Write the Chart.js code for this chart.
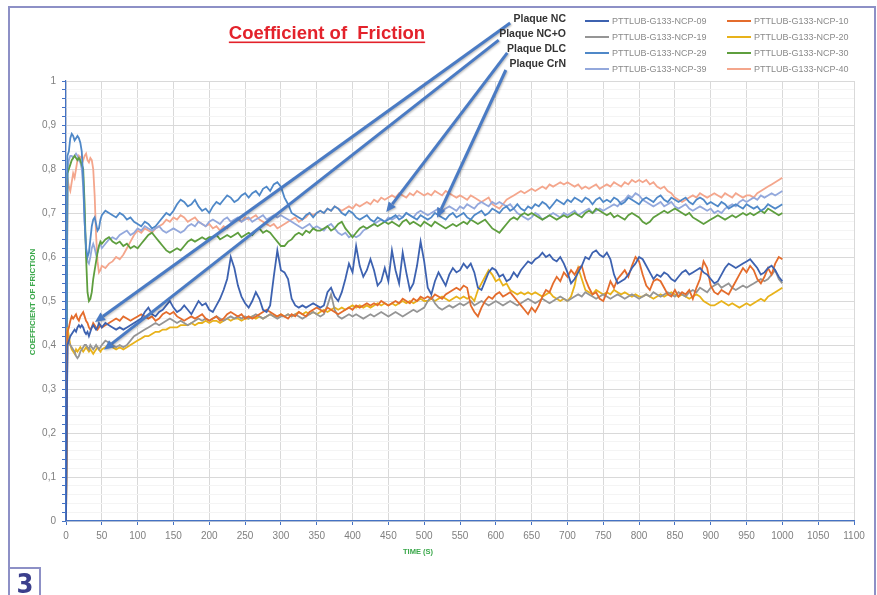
<!DOCTYPE html>
<html>
<head>
<meta charset="utf-8">
<title>Coefficient of Friction</title>
<script src="https://cdn.jsdelivr.net/npm/chart.js@4.4.1/dist/chart.umd.min.js"></script>
<style>
  html, body { margin: 0; padding: 0; background: #fff; }
  canvas { display: block; }
</style>
</head>
<body>
<canvas id="frictionChart" width="877" height="595"></canvas>
<script>
// temps (s) : pas de 2 s au début, puis 5 s
const times = [0, 2, 4, 6, 8, 10, 12, 14, 16, 18, 20, 22, 24, 26, 28, 30, 32, 34, 36, 38, 40, 42, 44, 46, 48, 50];
for (let t = 55; t <= 1000; t += 5) times.push(t);

const xTicks = { min: 0, max: 1100, step: 50 };
const yTicks = { min: 0, max: 1, step: 0.1 };

const seriesNames = ['PTTLUB-G133-NCP-09', 'PTTLUB-G133-NCP-10', 'PTTLUB-G133-NCP-19', 'PTTLUB-G133-NCP-20',
                     'PTTLUB-G133-NCP-29', 'PTTLUB-G133-NCP-30', 'PTTLUB-G133-NCP-39', 'PTTLUB-G133-NCP-40'];

const ncp09 = [
  0, 0.40, 0.41, 0.42, 0.425, 0.43, 0.435, 0.43, 0.44, 0.445, 0.44, 0.445, 0.44, 0.43, 0.425, 0.43, 0.42, 0.43, 0.44, 0.445, 0.44, 0.435, 0.44, 0.45, 0.445, 0.44,
  0.45, 0.445, 0.44, 0.435, 0.44, 0.435, 0.44, 0.445, 0.45, 0.455,
  0.46, 0.475, 0.485, 0.47, 0.465, 0.475, 0.48, 0.49, 0.50, 0.485,
  0.475, 0.48, 0.49, 0.48, 0.47, 0.485, 0.50, 0.49, 0.495, 0.48,
  0.475, 0.49, 0.505, 0.525, 0.55, 0.60, 0.575, 0.535, 0.51, 0.495,
  0.485, 0.50, 0.52, 0.505, 0.48, 0.475, 0.49, 0.555, 0.615, 0.57,
  0.565, 0.55, 0.505, 0.49, 0.485, 0.49, 0.485, 0.49, 0.495, 0.49,
  0.485, 0.49, 0.52, 0.53, 0.51, 0.50, 0.52, 0.55, 0.585, 0.565,
  0.625, 0.58, 0.555, 0.57, 0.595, 0.57, 0.535, 0.545, 0.575, 0.545,
  0.615, 0.57, 0.54, 0.61, 0.565, 0.525, 0.54, 0.58, 0.635, 0.59,
  0.53, 0.515, 0.545, 0.565, 0.55, 0.535, 0.56, 0.575, 0.565, 0.57,
  0.585, 0.575, 0.585, 0.565, 0.53, 0.525, 0.545, 0.565, 0.575, 0.57,
  0.555, 0.56, 0.545, 0.55, 0.565, 0.555, 0.57, 0.58, 0.59, 0.585,
  0.595, 0.60, 0.61, 0.60, 0.605, 0.595, 0.59, 0.60, 0.585, 0.565,
  0.54, 0.55, 0.565, 0.58, 0.60, 0.595, 0.61, 0.615, 0.605, 0.60,
  0.61, 0.595, 0.56, 0.54, 0.545, 0.55, 0.56, 0.575, 0.585, 0.60,
  0.595, 0.58, 0.565, 0.55, 0.56, 0.555, 0.565, 0.56, 0.55, 0.545,
  0.555, 0.565, 0.57, 0.56, 0.565, 0.57, 0.575, 0.565, 0.56, 0.55,
  0.54, 0.545, 0.56, 0.575, 0.585, 0.58, 0.575, 0.58, 0.585, 0.59,
  0.595, 0.585, 0.575, 0.56, 0.565, 0.575, 0.58, 0.57, 0.555, 0.545
];

const ncp10 = [
  0, 0.43, 0.44, 0.455, 0.465, 0.46, 0.465, 0.47, 0.46, 0.455, 0.465, 0.47, 0.475, 0.465, 0.455, 0.45, 0.44, 0.435, 0.44, 0.45, 0.445, 0.44, 0.435, 0.44, 0.445, 0.44,
  0.445, 0.45, 0.455, 0.46, 0.455, 0.465, 0.46, 0.455, 0.46, 0.465,
  0.47, 0.465, 0.46, 0.465, 0.455, 0.46, 0.47, 0.475, 0.47, 0.475,
  0.465, 0.46, 0.455, 0.46, 0.465, 0.46, 0.465, 0.47, 0.46, 0.455,
  0.46, 0.465, 0.455, 0.46, 0.47, 0.475, 0.47, 0.465, 0.47, 0.46,
  0.465, 0.46, 0.465, 0.47, 0.475, 0.48, 0.475, 0.47, 0.465, 0.47,
  0.465, 0.46, 0.47, 0.465, 0.475, 0.47, 0.465, 0.475, 0.48, 0.485,
  0.48, 0.475, 0.485, 0.48, 0.475, 0.47, 0.475, 0.48, 0.485, 0.48,
  0.49, 0.485, 0.49, 0.495, 0.49, 0.495, 0.49, 0.50, 0.495, 0.49,
  0.495, 0.50, 0.495, 0.505, 0.50, 0.495, 0.505, 0.50, 0.51, 0.505,
  0.51, 0.505, 0.515, 0.51, 0.505, 0.515, 0.52, 0.525, 0.53, 0.525,
  0.535, 0.53, 0.49, 0.475, 0.465, 0.485, 0.50, 0.51, 0.505, 0.515,
  0.52, 0.51, 0.515, 0.52, 0.51, 0.50, 0.49, 0.48, 0.47, 0.485,
  0.475, 0.49, 0.51, 0.525, 0.52, 0.54, 0.555, 0.545, 0.565, 0.555,
  0.57, 0.56, 0.575, 0.58, 0.55, 0.53, 0.515, 0.52, 0.505, 0.50,
  0.52, 0.545, 0.53, 0.55, 0.56, 0.57, 0.555, 0.58, 0.60, 0.59,
  0.56, 0.535, 0.525, 0.545, 0.55, 0.545, 0.53, 0.515, 0.51, 0.525,
  0.51, 0.52, 0.515, 0.525, 0.505, 0.53, 0.55, 0.59, 0.575, 0.535,
  0.52, 0.515, 0.525, 0.52, 0.515, 0.53, 0.545, 0.56, 0.575, 0.565,
  0.58, 0.57, 0.55, 0.54, 0.555, 0.575, 0.56, 0.585, 0.60, 0.595
];

const ncp19 = [
  0, 0.41, 0.405, 0.40, 0.395, 0.39, 0.385, 0.375, 0.37, 0.375, 0.385, 0.39, 0.395, 0.40, 0.40, 0.395, 0.39, 0.40, 0.395, 0.39, 0.395, 0.40, 0.395, 0.39, 0.395, 0.40,
  0.41, 0.405, 0.40, 0.395, 0.40, 0.395, 0.40, 0.41, 0.42, 0.425,
  0.43, 0.435, 0.44, 0.445, 0.45, 0.445, 0.45, 0.455, 0.46, 0.455,
  0.45, 0.455, 0.45, 0.445, 0.45, 0.455, 0.46, 0.455, 0.46, 0.455,
  0.46, 0.465, 0.46, 0.455, 0.46, 0.465, 0.46, 0.465, 0.46, 0.465,
  0.46, 0.465, 0.47, 0.465, 0.46, 0.465, 0.47, 0.465, 0.46, 0.465,
  0.465, 0.47, 0.465, 0.47, 0.465, 0.46, 0.465, 0.47, 0.475, 0.47,
  0.465, 0.47, 0.49, 0.515, 0.48, 0.465, 0.46, 0.465, 0.47, 0.465,
  0.47, 0.465, 0.46, 0.465, 0.47, 0.465, 0.47, 0.475, 0.47, 0.465,
  0.47, 0.475, 0.47, 0.465, 0.47, 0.475, 0.48, 0.475, 0.48, 0.485,
  0.50, 0.51, 0.495, 0.485, 0.48, 0.485, 0.49, 0.485, 0.49, 0.495,
  0.49, 0.495, 0.50, 0.49, 0.495, 0.50, 0.495, 0.49, 0.495, 0.50,
  0.495, 0.49, 0.495, 0.50, 0.495, 0.49, 0.495, 0.50, 0.505, 0.50,
  0.495, 0.50, 0.505, 0.50, 0.495, 0.50, 0.505, 0.51, 0.505, 0.50,
  0.505, 0.51, 0.515, 0.51, 0.52, 0.515, 0.51, 0.505, 0.51, 0.515,
  0.51, 0.505, 0.51, 0.515, 0.51, 0.505, 0.51, 0.515, 0.51, 0.505,
  0.51, 0.515, 0.51, 0.52, 0.515, 0.51, 0.515, 0.52, 0.515, 0.51,
  0.52, 0.515, 0.51, 0.52, 0.525, 0.52, 0.53, 0.525, 0.52, 0.53,
  0.535, 0.54, 0.53, 0.535, 0.54, 0.53, 0.525, 0.53, 0.535, 0.53,
  0.535, 0.54, 0.545, 0.55, 0.545, 0.55, 0.56, 0.57, 0.55, 0.54
];

const ncp20 = [
  0, 0.44, 0.42, 0.40, 0.39, 0.385, 0.38, 0.39, 0.385, 0.39, 0.395, 0.39, 0.385, 0.39, 0.395, 0.39, 0.385, 0.39, 0.385, 0.38, 0.385, 0.39, 0.395, 0.39, 0.385, 0.39,
  0.395, 0.40, 0.395, 0.39, 0.395, 0.39, 0.395, 0.40, 0.405, 0.41,
  0.415, 0.42, 0.42, 0.425, 0.43, 0.43, 0.435, 0.435, 0.44, 0.44,
  0.44, 0.445, 0.445, 0.445, 0.45, 0.445, 0.45, 0.45, 0.455, 0.45,
  0.455, 0.455, 0.45, 0.455, 0.46, 0.455, 0.46, 0.46, 0.455, 0.46,
  0.46, 0.465, 0.46, 0.465, 0.46, 0.465, 0.47, 0.465, 0.465, 0.47,
  0.465, 0.47, 0.465, 0.47, 0.475, 0.47, 0.475, 0.47, 0.475, 0.47,
  0.475, 0.48, 0.475, 0.48, 0.485, 0.48, 0.485, 0.48, 0.485, 0.49,
  0.485, 0.49, 0.485, 0.49, 0.485, 0.49, 0.495, 0.49, 0.495, 0.49,
  0.495, 0.49, 0.495, 0.50, 0.495, 0.50, 0.495, 0.50, 0.505, 0.50,
  0.50, 0.505, 0.50, 0.505, 0.51, 0.505, 0.50, 0.505, 0.51, 0.505,
  0.51, 0.505, 0.51, 0.50, 0.525, 0.54, 0.555, 0.57, 0.56, 0.545,
  0.55, 0.535, 0.54, 0.525, 0.52, 0.515, 0.52, 0.515, 0.52, 0.515,
  0.52, 0.515, 0.51, 0.515, 0.52, 0.51, 0.505, 0.50, 0.505, 0.50,
  0.51, 0.535, 0.575, 0.55, 0.525, 0.52, 0.515, 0.525, 0.52, 0.515,
  0.52, 0.515, 0.525, 0.52, 0.515, 0.52, 0.515, 0.51, 0.515, 0.51,
  0.51, 0.515, 0.51, 0.505, 0.51, 0.515, 0.51, 0.515, 0.52, 0.515,
  0.51, 0.515, 0.51, 0.505, 0.51, 0.515, 0.51, 0.50, 0.495, 0.49,
  0.49, 0.495, 0.50, 0.495, 0.49, 0.495, 0.49, 0.485, 0.49, 0.495,
  0.49, 0.495, 0.50, 0.505, 0.50, 0.51, 0.515, 0.52, 0.525, 0.53
];

const ncp29 = [
  0, 0.83, 0.84, 0.87, 0.88, 0.875, 0.865, 0.87, 0.875, 0.87, 0.86, 0.84, 0.78, 0.68, 0.62, 0.60, 0.61, 0.64, 0.67, 0.685, 0.69, 0.675, 0.66, 0.665, 0.685, 0.695,
  0.705, 0.70, 0.695, 0.69, 0.70, 0.695, 0.685, 0.69, 0.68, 0.675,
  0.67, 0.68, 0.675, 0.665, 0.67, 0.68, 0.69, 0.70, 0.695, 0.705,
  0.72, 0.73, 0.725, 0.715, 0.72, 0.73, 0.715, 0.705, 0.71, 0.70,
  0.715, 0.725, 0.72, 0.73, 0.74, 0.735, 0.725, 0.73, 0.74, 0.745,
  0.735, 0.745, 0.75, 0.74, 0.755, 0.76, 0.75, 0.765, 0.77, 0.76,
  0.735, 0.72, 0.70, 0.695, 0.69, 0.685, 0.695, 0.70, 0.69, 0.70,
  0.705, 0.70, 0.71, 0.705, 0.715, 0.71, 0.70, 0.695, 0.705, 0.70,
  0.69, 0.685, 0.69, 0.695, 0.685, 0.68, 0.69, 0.685, 0.68, 0.685,
  0.69, 0.695, 0.685, 0.69, 0.70, 0.695, 0.69, 0.685, 0.695, 0.69,
  0.685, 0.69, 0.70, 0.695, 0.69, 0.685, 0.695, 0.70, 0.69, 0.695,
  0.70, 0.69, 0.685, 0.695, 0.70, 0.705, 0.695, 0.70, 0.71, 0.705,
  0.70, 0.71, 0.715, 0.705, 0.71, 0.72, 0.71, 0.705, 0.715, 0.71,
  0.72, 0.715, 0.725, 0.72, 0.71, 0.72, 0.73, 0.725, 0.72, 0.73,
  0.725, 0.735, 0.73, 0.725, 0.735, 0.73, 0.72, 0.73, 0.735, 0.725,
  0.73, 0.725, 0.735, 0.73, 0.72, 0.725, 0.735, 0.73, 0.725, 0.72,
  0.73, 0.735, 0.73, 0.725, 0.735, 0.74, 0.73, 0.725, 0.735, 0.73,
  0.725, 0.73, 0.735, 0.725, 0.72, 0.73, 0.735, 0.73, 0.72, 0.725,
  0.72, 0.715, 0.725, 0.72, 0.71, 0.715, 0.72, 0.715, 0.71, 0.72,
  0.715, 0.71, 0.715, 0.705, 0.71, 0.72, 0.715, 0.71, 0.715, 0.72
];

const ncp30 = [
  0, 0.79, 0.80, 0.81, 0.82, 0.825, 0.83, 0.825, 0.82, 0.825, 0.82, 0.81, 0.80, 0.72, 0.60, 0.52, 0.50, 0.505, 0.52, 0.55, 0.57, 0.59, 0.61, 0.625, 0.635, 0.63,
  0.64, 0.645, 0.635, 0.63, 0.635, 0.625, 0.63, 0.62, 0.625, 0.62,
  0.63, 0.64, 0.65, 0.655, 0.645, 0.635, 0.625, 0.615, 0.61, 0.615,
  0.62, 0.615, 0.625, 0.635, 0.64, 0.635, 0.64, 0.645, 0.64, 0.645,
  0.645, 0.65, 0.64, 0.645, 0.65, 0.645, 0.65, 0.655, 0.645, 0.65,
  0.655, 0.65, 0.66, 0.665, 0.655, 0.66, 0.655, 0.645, 0.635, 0.625,
  0.625, 0.635, 0.64, 0.65, 0.655, 0.65, 0.66, 0.655, 0.665, 0.66,
  0.66, 0.665, 0.67, 0.66, 0.665, 0.675, 0.68, 0.665, 0.655, 0.645,
  0.655, 0.665, 0.67, 0.665, 0.67, 0.675, 0.67, 0.675, 0.68, 0.675,
  0.68, 0.675, 0.67, 0.68, 0.685, 0.675, 0.68, 0.675, 0.67, 0.68,
  0.675, 0.67, 0.68, 0.675, 0.67, 0.665, 0.67, 0.675, 0.67, 0.675,
  0.68, 0.675, 0.685, 0.68, 0.675, 0.68, 0.685, 0.675, 0.665, 0.66,
  0.655, 0.665, 0.675, 0.685, 0.69, 0.685, 0.695, 0.70, 0.695, 0.70,
  0.695, 0.69, 0.685, 0.69, 0.695, 0.69, 0.685, 0.69, 0.695, 0.69,
  0.695, 0.70, 0.695, 0.69, 0.70, 0.705, 0.70, 0.71, 0.705, 0.70,
  0.695, 0.70, 0.69, 0.695, 0.69, 0.685, 0.695, 0.70, 0.695, 0.69,
  0.68, 0.675, 0.68, 0.69, 0.695, 0.70, 0.705, 0.70, 0.705, 0.71,
  0.705, 0.70, 0.695, 0.70, 0.69, 0.685, 0.68, 0.675, 0.68, 0.685,
  0.69, 0.695, 0.69, 0.685, 0.69, 0.695, 0.69, 0.695, 0.70, 0.695,
  0.70, 0.695, 0.70, 0.705, 0.70, 0.71, 0.705, 0.70, 0.695, 0.70
];

const ncp39 = [
  0, 0.80, 0.82, 0.83, 0.83, 0.825, 0.83, 0.835, 0.83, 0.82, 0.815, 0.80, 0.76, 0.68, 0.62, 0.59, 0.585, 0.60, 0.62, 0.63, 0.62, 0.605, 0.61, 0.625, 0.63, 0.62,
  0.63, 0.64, 0.645, 0.64, 0.65, 0.655, 0.66, 0.65, 0.655, 0.665,
  0.66, 0.67, 0.665, 0.66, 0.665, 0.67, 0.66, 0.655, 0.66, 0.665,
  0.66, 0.655, 0.66, 0.67, 0.675, 0.67, 0.68, 0.675, 0.67, 0.68,
  0.685, 0.68, 0.675, 0.685, 0.69, 0.68, 0.685, 0.69, 0.68, 0.685,
  0.69, 0.68, 0.685, 0.69, 0.695, 0.685, 0.69, 0.695, 0.69, 0.695,
  0.69, 0.685, 0.68, 0.675, 0.67, 0.665, 0.67, 0.675, 0.665, 0.67,
  0.665, 0.66, 0.67, 0.675, 0.665, 0.655, 0.65, 0.655, 0.645, 0.65,
  0.645, 0.65, 0.66, 0.665, 0.67, 0.675, 0.68, 0.685, 0.68, 0.69,
  0.685, 0.69, 0.695, 0.69, 0.70, 0.695, 0.69, 0.70, 0.705, 0.70,
  0.695, 0.70, 0.705, 0.71, 0.705, 0.71, 0.715, 0.71, 0.705, 0.715,
  0.71, 0.72, 0.715, 0.71, 0.72, 0.725, 0.72, 0.715, 0.725, 0.72,
  0.725, 0.72, 0.715, 0.72, 0.71, 0.70, 0.695, 0.69, 0.685, 0.69,
  0.70, 0.695, 0.685, 0.69, 0.695, 0.70, 0.695, 0.69, 0.70, 0.695,
  0.70, 0.705, 0.695, 0.70, 0.705, 0.71, 0.70, 0.705, 0.71, 0.705,
  0.71, 0.715, 0.72, 0.715, 0.725, 0.73, 0.74, 0.735, 0.745, 0.74,
  0.73, 0.725, 0.72, 0.715, 0.72, 0.725, 0.715, 0.72, 0.725, 0.715,
  0.71, 0.715, 0.72, 0.71, 0.705, 0.71, 0.715, 0.71, 0.705, 0.71,
  0.70, 0.705, 0.70, 0.71, 0.715, 0.72, 0.715, 0.725, 0.73, 0.725,
  0.73, 0.735, 0.73, 0.74, 0.735, 0.74, 0.745, 0.74, 0.745, 0.75
];

const ncp40 = [
  0, 0.78, 0.76, 0.75, 0.77, 0.79, 0.78, 0.80, 0.82, 0.83, 0.825, 0.83, 0.82, 0.83, 0.835, 0.82, 0.815, 0.825, 0.82, 0.80, 0.74, 0.65, 0.59, 0.565, 0.57, 0.58,
  0.575, 0.585, 0.59, 0.60, 0.595, 0.605, 0.62, 0.635, 0.65, 0.66,
  0.655, 0.665, 0.66, 0.655, 0.665, 0.67, 0.675, 0.685, 0.68, 0.69,
  0.685, 0.695, 0.69, 0.68, 0.685, 0.69, 0.68, 0.675, 0.67, 0.675,
  0.665, 0.67, 0.66, 0.67, 0.665, 0.675, 0.68, 0.685, 0.68, 0.69,
  0.685, 0.69, 0.695, 0.685, 0.68, 0.675, 0.67, 0.675, 0.665, 0.67,
  0.675, 0.68, 0.685, 0.69, 0.68, 0.685, 0.69, 0.70, 0.695, 0.70,
  0.705, 0.70, 0.71, 0.705, 0.715, 0.71, 0.705, 0.71, 0.715, 0.71,
  0.72, 0.715, 0.72, 0.725, 0.72, 0.73, 0.725, 0.735, 0.73, 0.735,
  0.74, 0.735, 0.745, 0.74, 0.735, 0.745, 0.74, 0.75, 0.745, 0.74,
  0.745, 0.74, 0.75, 0.745, 0.74, 0.75, 0.745, 0.74, 0.735, 0.74,
  0.735, 0.73, 0.74, 0.735, 0.73, 0.725, 0.73, 0.735, 0.72, 0.715,
  0.71, 0.72, 0.73, 0.735, 0.74, 0.745, 0.75, 0.745, 0.75, 0.755,
  0.75, 0.755, 0.76, 0.755, 0.765, 0.76, 0.765, 0.77, 0.765, 0.77,
  0.765, 0.76, 0.765, 0.755, 0.76, 0.755, 0.76, 0.765, 0.755, 0.76,
  0.765, 0.76, 0.77, 0.765, 0.76, 0.77, 0.765, 0.775, 0.77, 0.775,
  0.77, 0.775, 0.765, 0.77, 0.76, 0.755, 0.76, 0.75, 0.745, 0.735,
  0.73, 0.725, 0.73, 0.735, 0.74, 0.735, 0.745, 0.74, 0.735, 0.74,
  0.745, 0.74, 0.735, 0.745, 0.74, 0.735, 0.745, 0.74, 0.735, 0.74,
  0.74, 0.735, 0.745, 0.75, 0.755, 0.76, 0.765, 0.77, 0.775, 0.78
];

const seriesValues = [ncp09, ncp10, ncp19, ncp20, ncp29, ncp30, ncp39, ncp40];
const seriesColors = ['#3d62b0', '#e46c2c', '#959595', '#e8b21a', '#4f88c8', '#5e9e3e', '#93a8dc', '#f4a68c'];

// flèches "Plaque ..." : départ / pointe en coordonnées du graphique (temps, coefficient)
const plaqueLabels = ['Plaque NC', 'Plaque NC+O', 'Plaque DLC', 'Plaque CrN'];
const arrowFrom = [[620, 1.132], [604, 1.093], [616, 1.064], [614, 1.025]];
const arrowTo = [[40.5, 0.452], [53, 0.389], [447, 0.702], [518, 0.689]];

const datasets = seriesNames.map((name, i) => ({
  label: name,
  data: times.map((t, k) => ({ x: t, y: seriesValues[i][k] })),
  borderColor: seriesColors[i],
  backgroundColor: seriesColors[i],
  borderWidth: 1.8,
  pointRadius: 0,
  tension: 0,
  fill: false
}));

const isMajor = v => Math.abs(v * 10 - Math.round(v * 10)) < 1e-6;

// décor : cadre, titre, titres d'axes, légende, flèches
const decorPlugin = {
  id: 'decor',
  beforeDraw(chart) {
    const c = chart.ctx;
    c.save();
    c.fillStyle = '#ffffff';
    c.fillRect(0, 0, chart.width, chart.height);
    c.restore();
  },
  afterDraw(chart) {
    const c = chart.ctx;
    const xs = chart.scales.x, ys = chart.scales.y;
    c.save();

    // cadre
    c.strokeStyle = '#8d90c6';
    c.lineWidth = 2;
    c.beginPath();
    c.moveTo(9, 595); c.lineTo(9, 7); c.lineTo(875, 7); c.lineTo(875, 595);
    c.moveTo(9, 568); c.lineTo(40, 568); c.lineTo(40, 595);
    c.stroke();
    c.fillStyle = '#3b3f8c';
    c.font = 'bold 27px "Liberation Sans Narrow", "DejaVu Sans Condensed", sans-serif';
    c.textAlign = 'center';
    c.textBaseline = 'alphabetic';
    c.fillText('3', 25, 593);

    // titre
    c.fillStyle = '#e3222b';
    c.font = 'bold 18.5px "Liberation Sans", Arial, sans-serif';
    c.textAlign = 'center';
    c.fillText('Coefficient of  Friction', 327, 39);
    const w = c.measureText('Coefficient of  Friction').width;
    c.fillRect(327 - w / 2, 41.5, w, 1.6);

    // titres des axes
    c.fillStyle = '#3aa84a';
    c.font = 'bold 7.5px "Liberation Sans", Arial, sans-serif';
    c.textBaseline = 'middle';
    c.fillText('TIME (S)', 418, 552);
    c.font = 'bold 8px "Liberation Sans", Arial, sans-serif';
    c.translate(33, 302);
    c.rotate(-Math.PI / 2);
    c.fillText('COEFFICIENT OF FRICTION', 0, 0);
    c.setTransform(1, 0, 0, 1, 0, 0);

    // légende (2 colonnes)
    c.font = '9px "Liberation Sans", Arial, sans-serif';
    c.textAlign = 'left';
    chart.data.datasets.forEach((ds, i) => {
      const col = i % 2, row = Math.floor(i / 2);
      const x0 = col === 0 ? 585 : 727;
      const y0 = 21 + row * 16;
      c.strokeStyle = ds.borderColor;
      c.lineWidth = 2;
      c.beginPath();
      c.moveTo(x0, y0); c.lineTo(x0 + 24, y0);
      c.stroke();
      c.fillStyle = '#8a8a8a';
      c.fillText(ds.label, x0 + 27, y0 + 0.5);
    });

    // flèches
    c.shadowColor = 'rgba(0,0,0,0.25)';
    c.shadowBlur = 2;
    c.shadowOffsetX = 1;
    c.shadowOffsetY = 1;
    c.strokeStyle = '#4a7bc4';
    c.fillStyle = '#4a7bc4';
    c.lineWidth = 3;
    arrowFrom.forEach((p, i) => {
      const x1 = xs.getPixelForValue(p[0]), y1 = ys.getPixelForValue(p[1]);
      const x2 = xs.getPixelForValue(arrowTo[i][0]), y2 = ys.getPixelForValue(arrowTo[i][1]);
      const a = Math.atan2(y2 - y1, x2 - x1);
      const hl = 10, hw = 4.5;
      const bx = x2 - hl * Math.cos(a), by = y2 - hl * Math.sin(a);
      c.beginPath();
      c.moveTo(x1, y1); c.lineTo(bx, by);
      c.stroke();
      c.beginPath();
      c.moveTo(x2, y2);
      c.lineTo(bx + hw * Math.sin(a), by - hw * Math.cos(a));
      c.lineTo(bx - hw * Math.sin(a), by + hw * Math.cos(a));
      c.closePath();
      c.fill();
    });
    c.shadowColor = 'transparent';

    // libellés "Plaque ..."
    c.fillStyle = '#333333';
    c.font = 'bold 10.5px "Liberation Sans", Arial, sans-serif';
    c.textAlign = 'right';
    c.textBaseline = 'middle';
    plaqueLabels.forEach((txt, i) => {
      c.fillText(txt, 566, 19 + i * 15);
    });
    c.restore();
  }
};

const ctx = document.getElementById('frictionChart').getContext('2d');

const frictionChart = new Chart(ctx, {
  type: 'line',
  data: { datasets: datasets },
  plugins: [decorPlugin],
  options: {
    responsive: false,
    animation: false,
    devicePixelRatio: 1,
    layout: { padding: { top: 81, right: 23, bottom: 0, left: 0 } },
    plugins: {
      legend: { display: false },
      title: { display: false },
      tooltip: { enabled: false }
    },
    scales: {
      x: {
        type: 'linear',
        min: xTicks.min,
        max: xTicks.max,
        afterFit: scale => { scale.height = 74; },
        border: { color: '#4472c4', width: 1.2 },
        grid: { color: '#d9d9d9', tickColor: '#4472c4', tickLength: 4 },
        ticks: {
          stepSize: xTicks.step,
          autoSkip: false,
          maxRotation: 0,
          padding: 5,
          color: '#7f7f7f',
          font: { family: '"Liberation Sans", Arial, sans-serif', size: 10 },
          callback: v => String(v)
        }
      },
      y: {
        min: yTicks.min,
        max: yTicks.max,
        afterFit: scale => { scale.width = 66; },
        border: { color: '#4472c4', width: 1.2 },
        grid: {
          color: c => isMajor(c.tick.value) ? '#d9d9d9' : '#f4f4f4',
          tickColor: '#4472c4',
          tickLength: 4
        },
        afterBuildTicks: scale => {
          // graduations mineures tous les 0,02
          const t = [];
          for (let k = 0; k <= 50; k++) t.push({ value: k / 50 });
          scale.ticks = t;
        },
        ticks: {
          autoSkip: false,
          padding: 6,
          color: '#7f7f7f',
          font: { family: '"Liberation Sans", Arial, sans-serif', size: 10 },
          callback: v => isMajor(v) ? String(Math.round(v * 10) / 10).replace('.', ',') : ''
        }
      }
    }
  }
});
</script>
</body>
</html>
